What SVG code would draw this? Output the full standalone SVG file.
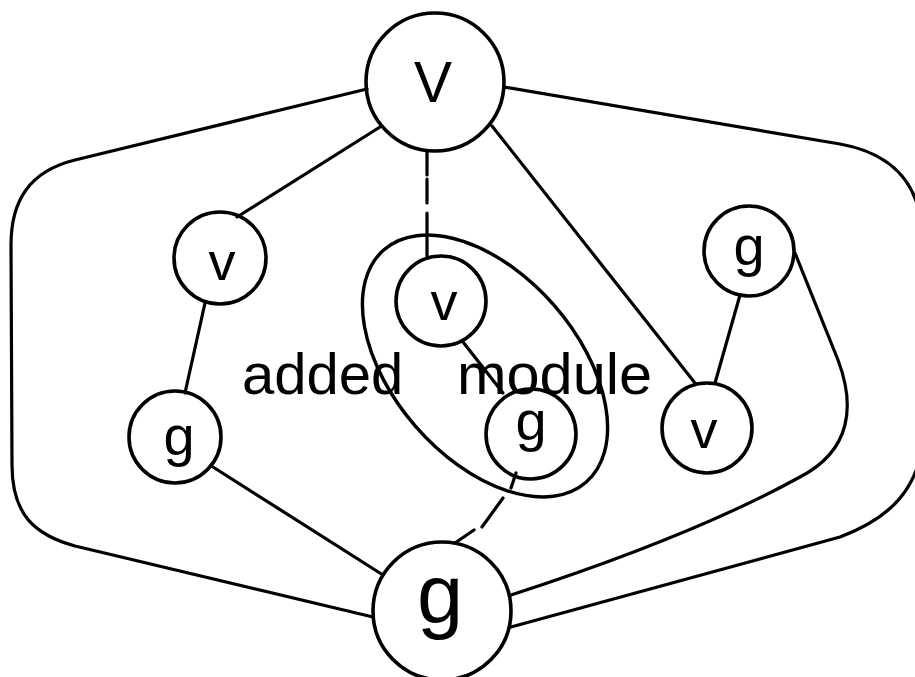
<svg xmlns="http://www.w3.org/2000/svg" width="915" height="677" viewBox="0 0 915 677">
  <style>
    .bg { fill: #ffffff; }
    .node circle { fill: none; stroke: #000; stroke-width: 3.6; }
    .node text { font-family: "Liberation Sans", Arial, sans-serif; fill: #000; text-anchor: middle; }
    .edge { fill: none; stroke: #000; stroke-width: 3.2; stroke-linecap: round; stroke-linejoin: round; }
    .module { fill: none; stroke: #000; stroke-width: 3.4; }
    .label { font-family: "Liberation Sans", Arial, sans-serif; font-size: 58px; fill: #000; }
  </style>
  <rect class="bg" x="0" y="0" width="915" height="677"/>

  <!-- connectors -->
  <g id="connectors">
    <!-- outer left loop: V to big g -->
    <path class="edge" d="M367,89 L75,160 C30,171 11,200 11,245 L12,465 C12,515 35,535 75,546 L373,617"/>
    <!-- outer right loop: V to big g (runs past the right edge) -->
    <path class="edge" d="M504,87 L840,144 C885,152 912,175 920,215 L925,260 L925,430 C920,490 890,518 840,537 L511,627"/>
    <!-- g (top right) around to big g -->
    <path class="edge" d="M795,253 L838,360 C855,405 852,450 800,477 C740,510 650,550 511,595"/>
    <!-- tree edges -->
    <path class="edge" d="M380,127 L237,217"/>
    <path class="edge" d="M205,303 L185,393"/>
    <path class="edge" d="M213,467 L383,575"/>
    <path class="edge" d="M492,126 L695,383"/>
    <path class="edge" d="M740,295 L715,383"/>
    <path class="edge" d="M463,342 L503,393"/>
    <!-- dashed links into the added module -->
    <path class="edge" d="M427,151 V175 M427,179 V203 M427,213 V256"/>
    <path class="edge" d="M516,473 L511,488 M503,498 L482,527 M474,530 L455,543"/>
  </g>

  <!-- added module boundary -->
  <g id="added-module">
    <ellipse class="module" cx="485" cy="366" rx="154" ry="92" transform="rotate(49 485 366)"/>
    <text class="label" y="394"><tspan x="242">added</tspan><tspan x="457" textLength="195" lengthAdjust="spacingAndGlyphs">module</tspan></text>
  </g>

  <!-- nodes -->
  <g id="node-V-top" class="node">
    <circle cx="435" cy="82" r="69"/>
    <text x="433" y="102" font-size="57">V</text>
  </g>
  <g id="node-v-left" class="node">
    <circle cx="220" cy="258" r="46"/>
    <text x="222" y="280" font-size="54">v</text>
  </g>
  <g id="node-v-mid" class="node">
    <circle cx="441" cy="301" r="45"/>
    <text x="444" y="320" font-size="54">v</text>
  </g>
  <g id="node-g-topright" class="node">
    <circle cx="749" cy="251" r="45"/>
    <text x="749" y="265" font-size="56">g</text>
  </g>
  <g id="node-g-left" class="node">
    <circle cx="175" cy="437" r="46"/>
    <text x="179" y="455" font-size="56">g</text>
  </g>
  <g id="node-g-mid" class="node">
    <circle cx="531" cy="434" r="45"/>
    <text x="531" y="440" font-size="56">g</text>
  </g>
  <g id="node-v-right" class="node">
    <circle cx="707" cy="428" r="45"/>
    <text x="704" y="448" font-size="54">v</text>
  </g>
  <g id="node-g-bottom" class="node">
    <circle cx="442" cy="611" r="69"/>
    <text x="440" y="623" font-size="83">g</text>
  </g>
</svg>
